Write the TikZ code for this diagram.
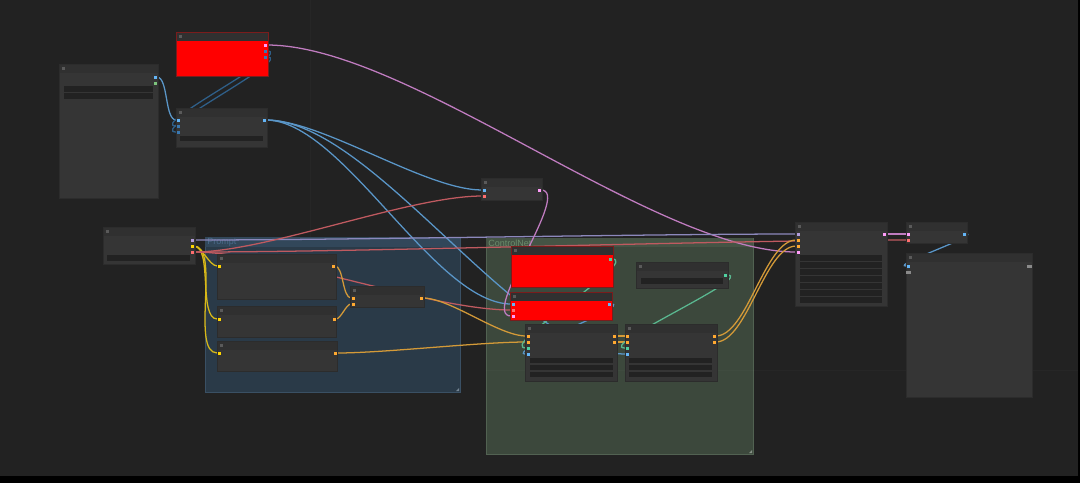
\documentclass[tikz,border=0pt]{standalone}
\usepackage{fontspec}
\setsansfont{Liberation Sans}
\usetikzlibrary{positioning, backgrounds}
\pgfdeclarelayer{links}
\pgfsetlayers{background,links,main}
\newcommand{\pxu}{0.025cm}
\definecolor{canvas}{HTML}{222222}
\definecolor{nodebody}{HTML}{353535}
\definecolor{nodetitle}{HTML}{303030}
\definecolor{nodeedge}{HTML}{2C2C2C}
\definecolor{titledot}{HTML}{5A5A5A}
\definecolor{widget}{HTML}{222222}
\definecolor{cnred}{HTML}{FF0000}
\definecolor{cnredge}{HTML}{7A1C1C}
\definecolor{promptfill}{HTML}{2A3A48}
\definecolor{prompttitle}{HTML}{32475A}
\definecolor{promptedge}{HTML}{3A5064}
\definecolor{promptlbl}{HTML}{4A6C8C}
\definecolor{cnetfill}{HTML}{3C483C}
\definecolor{cnettitle}{HTML}{455445}
\definecolor{cnetedge}{HTML}{526252}
\definecolor{cnetlbl}{HTML}{6B8C6B}
% リンクの色
\definecolor{lblue}{HTML}{5A96C8}
\definecolor{ldblue}{HTML}{2F5F88}
\definecolor{lpink}{HTML}{C07CC0}
\definecolor{lred}{HTML}{C05A60}
\definecolor{llav}{HTML}{8C88BC}
\definecolor{lyellow}{HTML}{D8B818}
\definecolor{lorange}{HTML}{D49A38}
\definecolor{lteal}{HTML}{5AB890}
% ソケットの色
\definecolor{sblue}{HTML}{64B5F6}
\definecolor{sdblue}{HTML}{3A78B0}
\definecolor{spink}{HTML}{FF9CF9}
\definecolor{sred}{HTML}{FF6E6E}
\definecolor{slav}{HTML}{B39DDB}
\definecolor{syellow}{HTML}{FFD500}
\definecolor{sorange}{HTML}{FFA931}
\definecolor{steal}{HTML}{4FD0A0}
\definecolor{sgreen}{HTML}{7DC47D}
\definecolor{sgrey}{HTML}{8A8A8A}

\begin{document}
\begin{tikzpicture}[
  x=0.025cm, y=-0.025cm,
  cnode/.style 2 args={draw=nodeedge, fill=nodebody, line width=0.3pt, inner sep=0, anchor=north west,
    minimum width=#1*\pxu, minimum height=#2*\pxu,
    path picture={
      \fill[nodetitle] (path picture bounding box.north west) rectangle ([yshift=-9*\pxu]path picture bounding box.north east);
      \fill[titledot] ([xshift=3*\pxu,yshift=-3*\pxu]path picture bounding box.north west) rectangle ([xshift=6*\pxu,yshift=-6*\pxu]path picture bounding box.north west);
    }},
  rnode/.style 2 args={cnode={#1}{#2}, fill=cnred, draw=cnredge},
  group box/.style n args={4}{fill=#3, draw=#4, line width=0.4pt, inner sep=0, anchor=north west,
    minimum width=#1*\pxu, minimum height=#2*\pxu},
  grplabel/.style={font=\sffamily\fontsize{6.4}{7}\selectfont, inner sep=0, anchor=west},
  sock/.style={fill=#1, inner sep=0, minimum size=3*\pxu},
  gsock/.style={fill=sgrey, inner sep=0, minimum width=5*\pxu, minimum height=3*\pxu},
  link/.style={draw=#1, line width=0.9pt, out=0, in=180, looseness=0.64},
]
\useasboundingbox (0,0) rectangle (1080,483);

% 背景とグループ
\begin{pgfonlayer}{background}
\fill[black] (0,0) rectangle (1080,483);
\fill[canvas] (0,0) rectangle (1078,476);
\node[group box={255}{155}{promptfill}{promptedge}] (prompt) at (205,237) {};
\fill[prompttitle] (205.3,237.3) rectangle (459.7,247);
\node[grplabel, text=promptlbl] at (207,242.5) {Prompt};
\fill[promptedge!70!white] (459,388) -- (459,391) -- (456,391) -- cycle;
\node[group box={267}{216}{cnetfill}{cnetedge}] (cnet) at (486,238) {};
\fill[cnettitle] (486.3,238.3) rectangle (752.7,247);
\node[grplabel, text=cnetlbl] at (488,243) {ControlNet};
\fill[cnetedge!70!white] (752,450) -- (752,453) -- (749,453) -- cycle;
\draw[white, opacity=0.02, line width=0.5pt] (310,0) -- (310,237);
\draw[white, opacity=0.02, line width=0.5pt] (486,370) -- (1078,370);
\end{pgfonlayer}

% ノード
\node[cnode={99}{134}] (ckpt) at (59,64) {};
\node[rnode={92}{44}] (redtop) at (176,32) {};
\node[cnode={91}{39}] (vaeld) at (176,108) {};
\node[cnode={92}{37}] (latent) at (103,227) {};
\node[cnode={119}{45}] (posA) at (217,254) {};
\node[cnode={119}{31}] (negB) at (217,306) {};
\node[cnode={120}{30}] (negC) at (217,341) {};
\node[cnode={74}{21}] (combine) at (350,286) {};
\node[cnode={61}{22}] (encode) at (481,178) {};
\node[rnode={102}{41}] (redF) at (511,246) {};
\node[rnode={102}{28}] (redG) at (510,292) {};
\node[cnode={92}{26}] (cnload) at (636,262) {};
\node[cnode={92}{57}] (applyI) at (525,324) {};
\node[cnode={92}{57}] (applyJ) at (625,324) {};
\node[cnode={92}{84}] (sampler) at (795,222) {};
\node[cnode={61}{21}] (decode) at (906,222) {};
\node[cnode={126}{144}] (save) at (906,253) {};

% ウィジェット
\fill[widget] (64,86) rectangle (153,92);
\fill[widget] (64,93) rectangle (153,99);
\fill[widget] (180,136) rectangle (263,141);
\fill[widget] (107,255) rectangle (190,261);
\fill[widget] (641,278) rectangle (723,284);
\fill[widget] (530,358) rectangle (613,363);
\fill[widget] (530,365) rectangle (613,370);
\fill[widget] (530,372) rectangle (613,377);
\fill[widget] (629,358) rectangle (712,363);
\fill[widget] (629,365) rectangle (712,370);
\fill[widget] (629,372) rectangle (712,377);
\fill[widget] (800,255) rectangle (882,261);
\fill[widget] (800,262) rectangle (882,268);
\fill[widget] (800,269) rectangle (882,275);
\fill[widget] (800,276) rectangle (882,282);
\fill[widget] (800,283) rectangle (882,289);
\fill[widget] (800,290) rectangle (882,296);
\fill[widget] (800,297) rectangle (882,303);

% ソケット
\node[sock=sblue] (ckptO1) at (155,77) {};
\node[sock=sgreen] (ckptO2) at (155,83) {};
\node[sock=spink] (redtopO1) at (265,45) {};
\node[sock=sdblue] (redtopO2) at (265,51) {};
\node[sock=sdblue] (redtopO3) at (265,57) {};
\node[sock=sblue] (vaeldI1) at (178,120) {};
\node[sock=sdblue] (vaeldI2) at (178,126) {};
\node[sock=sdblue] (vaeldI3) at (178,132) {};
\node[sock=sblue] (vaeldO1) at (264,120) {};
\node[sock=slav] (latentO1) at (192,240) {};
\node[sock=syellow] (latentO2) at (192,246) {};
\node[sock=sred] (latentO3) at (192,252) {};
\node[sock=syellow] (posAI1) at (219,266) {};
\node[sock=sorange] (posAO1) at (333,266) {};
\node[sock=syellow] (negBI1) at (219,319) {};
\node[sock=sorange] (negBO1) at (334,319) {};
\node[sock=syellow] (negCI1) at (219,353) {};
\node[sock=sorange] (negCO1) at (335,353) {};
\node[sock=sorange] (combineI1) at (353,298) {};
\node[sock=sorange] (combineI2) at (353,304) {};
\node[sock=sorange] (combineO1) at (421,298) {};
\node[sock=sblue] (encodeI1) at (484,190) {};
\node[sock=sred] (encodeI2) at (484,196) {};
\node[sock=spink] (encodeO1) at (539,190) {};
\node[sock=steal] (redFO1) at (610,259) {};
\node[sock=sblue] (redGI1) at (513,304) {};
\node[sock=sred] (redGI2) at (513,310) {};
\node[sock=spink] (redGI3) at (513,316) {};
\node[sock=sblue] (redGO1) at (609,304) {};
\node[sock=steal] (cnloadO1) at (725,275) {};
\node[sock=sorange] (applyII1) at (528,336) {};
\node[sock=sorange] (applyII2) at (528,342) {};
\node[sock=steal] (applyII3) at (528,348) {};
\node[sock=sblue] (applyII4) at (528,354) {};
\node[sock=sorange] (applyIO1) at (614,336) {};
\node[sock=sorange] (applyIO2) at (614,342) {};
\node[sock=sorange] (applyJI1) at (627,336) {};
\node[sock=sorange] (applyJI2) at (627,342) {};
\node[sock=steal] (applyJI3) at (627,348) {};
\node[sock=sblue] (applyJI4) at (627,354) {};
\node[sock=sorange] (applyJO1) at (714,336) {};
\node[sock=sorange] (applyJO2) at (714,342) {};
\node[sock=slav] (samplerI1) at (798,234) {};
\node[sock=sorange] (samplerI2) at (798,240) {};
\node[sock=sorange] (samplerI3) at (798,246) {};
\node[sock=spink] (samplerI4) at (798,252) {};
\node[sock=spink] (samplerO1) at (884,234) {};
\node[sock=spink] (decodeI1) at (908,234) {};
\node[sock=sred] (decodeI2) at (908,240) {};
\node[sock=sblue] (decodeO1) at (964,234) {};
\node[sock=sblue] (saveI1) at (908,266) {};
\node[gsock] (saveI2) at (908,272) {};
\node[gsock] (saveO1) at (1029,266) {};

% リンク
\begin{pgfonlayer}{links}
\draw[link=lblue] (ckptO1) to (vaeldI1);
\draw[link=ldblue] (redtopO2) to (vaeldI2);
\draw[link=ldblue] (redtopO3) to (vaeldI3);
\draw[link=lpink] (redtopO1) to (samplerI4);
\draw[link=lblue] (vaeldO1) to (encodeI1);
\draw[link=lblue] (vaeldO1) to (redGI1);
\draw[link=lblue] (vaeldO1) to (applyJI4);
\draw[link=llav] (latentO1) to (samplerI1);
\draw[link=lyellow] (latentO2) to (posAI1);
\draw[link=lyellow] (latentO2) to (negBI1);
\draw[link=lyellow] (latentO2) to (negCI1);
\draw[link=lred] (latentO3) to (encodeI2);
\draw[link=lred] (latentO3) to (redGI2);
\draw[link=lred] (latentO3) to (decodeI2);
\draw[link=lorange] (posAO1) to (combineI1);
\draw[link=lorange] (negBO1) to (combineI2);
\draw[link=lorange] (combineO1) to (applyII1);
\draw[link=lorange] (negCO1) to (applyII2);
\draw[link=lpink] (encodeO1) to (redGI3);
\draw[link=lteal] (redFO1) to (applyII3);
\draw[link=lblue] (redGO1) to (applyII4);
\draw[link=lorange] (applyIO1) to (applyJI1);
\draw[link=lorange] (applyIO2) to (applyJI2);
\draw[link=lteal] (cnloadO1) to (applyJI3);
\draw[link=lorange] (applyJO1) to (samplerI2);
\draw[link=lorange] (applyJO2) to (samplerI3);
\draw[link=lpink] (samplerO1) to (decodeI1);
\draw[link=lblue] (decodeO1) to (saveI1);
\end{pgfonlayer}

\end{tikzpicture}
\end{document}
